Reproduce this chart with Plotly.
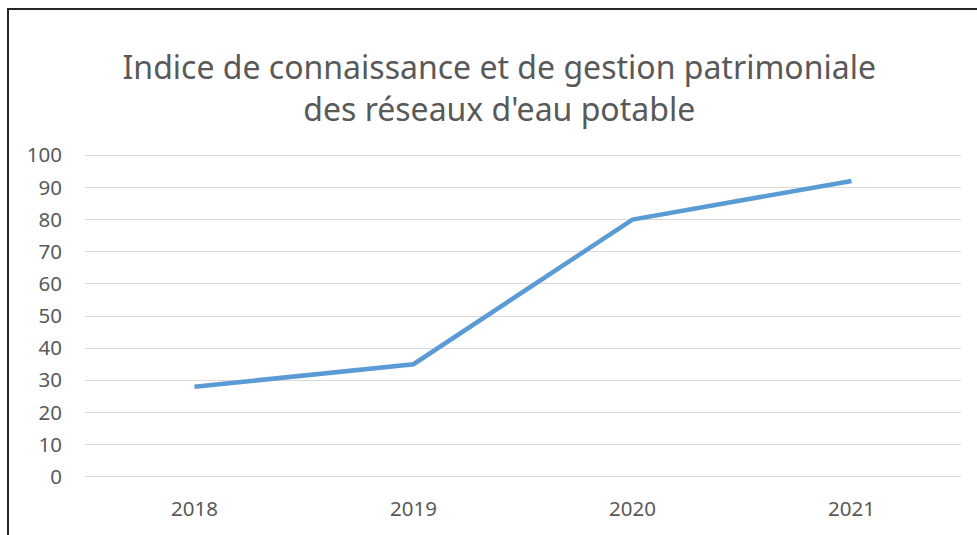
import plotly.graph_objects as go

years = ["2018", "2019", "2020", "2021"]
values = [28, 35, 80, 92]
y_ticks = [0, 10, 20, 30, 40, 50, 60, 70, 80, 90, 100]

title_text = "Indice de connaissance et de gestion patrimoniale<br>des réseaux d'eau potable"

fig = go.Figure()
fig.add_trace(go.Scatter(
    x=years, y=values, mode="lines",
    line=dict(color="#5b9bd5", width=4.5),
    hoverinfo="x+y", showlegend=False,
))

L, R, T, B = 85, 16, 152, 55
W, H = 977, 535
pw, ph = W - L - R, H - T - B

fig.update_layout(
    width=W, height=H,
    margin=dict(l=L, r=R, t=T, b=B),
    paper_bgcolor="white", plot_bgcolor="white",
    font=dict(family="Noto Sans, Open Sans, sans-serif", color="#595959"),
    title=dict(text=title_text, x=0.511, xanchor="center", y=1 - 79 / H, yanchor="middle",
               font=dict(size=32, color="#595959")),
    xaxis=dict(type="category", range=[-0.5, 3.5], showgrid=False, zeroline=False,
               showline=False, ticks="", tickfont=dict(size=20.5, color="#595959"),
               ticklabelstandoff=14),
    yaxis=dict(range=[-1, 101], tickvals=y_ticks, showgrid=True, gridcolor="#d9d9d9",
               gridwidth=1, zeroline=False, showline=False, ticks="",
               tickfont=dict(size=20.5, color="#595959"), ticklabelstandoff=22),
    shapes=[dict(type="rect", xref="paper", yref="paper",
                 x0=(8 - L) / pw, x1=(W + 20 - L) / pw,
                 y0=(H - B - (H + 20)) / ph, y1=(H - B - 9) / ph,
                 line=dict(color="#262626", width=2), fillcolor="rgba(0,0,0,0)",
                 layer="above")],
)

fig.write_html("out.html", config={"displayModeBar": False},
               post_script="document.body.style.margin='0';")
